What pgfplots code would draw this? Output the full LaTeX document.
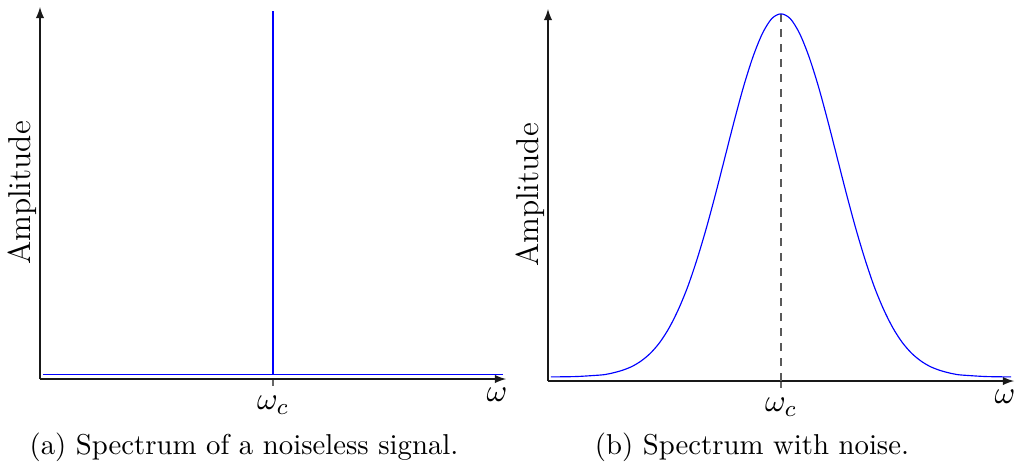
\documentclass[border=0pt]{standalone}
\usepackage{pgfplots}
\pgfplotsset{compat=1.18}
% one drawing unit
\def\px{0.3478pt}

\pgfplotsset{spectrum/.style={
  scale only axis, width=162.07pt, height=129.38pt,
  axis lines=left,
  axis line style={line width=0.36pt, black!90, -latex},
  xmin=0, xmax=10, ymin=0, ymax=1,
  xtick={5}, xticklabels={$\omega_c$}, ytick=\empty,
  tick align=outside, major tick length=2.4pt,
  tick style={black!60, line width=0.4pt},
  tick label style={font=\fontsize{11}{13.6}\selectfont},
  label style={font=\fontsize{11}{13.6}\selectfont},
  xlabel={$\omega$},
  xlabel style={at={(axis description cs:1,0)}, anchor=north east,
    inner sep=0pt, xshift=0.7pt, yshift=-2.8pt},
  ylabel={Amplitude},
  ylabel style={at={(axis description cs:0,0.5)}, anchor=south,
    inner sep=0pt, inner ysep=1pt},
}}

\begin{document}
\begin{tikzpicture}[font=\fontsize{10}{12}\selectfont]
\useasboundingbox (0,0) rectangle ({1018*\px},{-463*\px});

% (a) pure carrier
\begin{axis}[spectrum, at={({40*\px},{-379*\px})}, anchor=south west]
  \addplot[blue, line width=0.4pt] coordinates {(0.06,0.013) (9.94,0.013)};
  \addplot[blue, line width=0.4pt] coordinates {(5,0.013) (5,0.99)};
\end{axis}

% (b) carrier broadened by noise
\begin{axis}[spectrum, at={({548*\px},{-381*\px})}, anchor=south west]
  \addplot[black!65, dash pattern=on 2.8pt off 2.4pt, line width=0.4pt]
    coordinates {(5,0) (5,0.987)};
  \addplot[blue, line width=0.4pt, smooth] table {
    x     y
    0.06  0.011
    0.6   0.012
    1.0   0.015
    1.2   0.017
    1.4   0.022
    1.6   0.029
    1.8   0.039
    2.0   0.054
    2.2   0.075
    2.4   0.104
    2.6   0.143
    2.8   0.193
    3.0   0.254
    3.2   0.328
    3.4   0.412
    3.6   0.505
    3.8   0.603
    4.0   0.701
    4.2   0.793
    4.4   0.872
    4.6   0.934
    4.8   0.974
    5.0   0.987
    5.2   0.974
    5.4   0.934
    5.6   0.872
    5.8   0.793
    6.0   0.701
    6.2   0.603
    6.4   0.505
    6.6   0.412
    6.8   0.328
    7.0   0.254
    7.2   0.193
    7.4   0.143
    7.6   0.104
    7.8   0.075
    8.0   0.054
    8.2   0.039
    8.4   0.029
    8.6   0.022
    8.8   0.017
    9.0   0.015
    9.4   0.012
    9.94  0.011
  };
\end{axis}

\node[anchor=base] at ({244*\px},{-454*\px}) {(a) Spectrum of a noiseless signal.};
\node[anchor=base] at ({752*\px},{-454*\px}) {(b) Spectrum with noise.};
\end{tikzpicture}
\end{document}
